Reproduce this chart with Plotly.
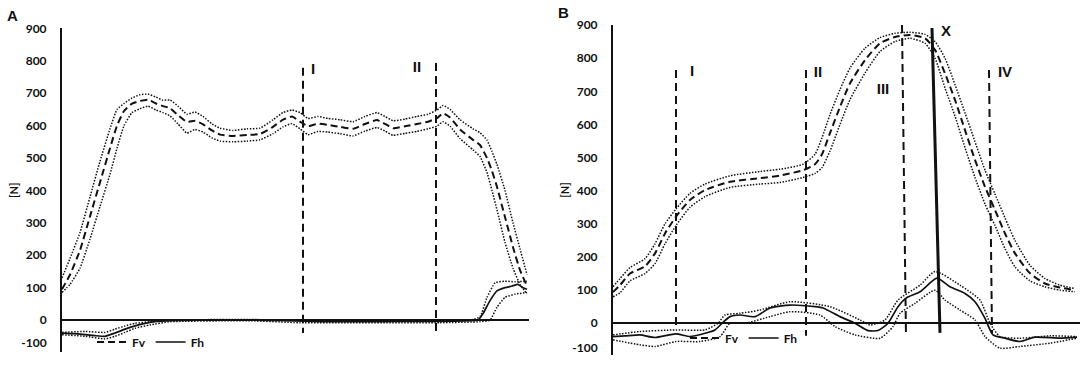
import plotly.graph_objects as go

# ---------------- DATA (time in samples, force in N) ----------------
# Panel A
t_fv_a = [0, 8, 18, 28, 38, 48, 55, 62, 70, 78, 86, 94, 101, 108, 116, 125, 133, 141, 150, 158,
          171, 185, 198, 211, 221, 230, 238, 246, 256, 266, 278, 291, 303, 315, 323, 331, 343, 355,
          366, 375, 381, 388, 398, 411, 418, 425, 430, 435, 443, 451, 458, 465]
fv_a_mean = [95, 140, 215, 320, 425, 530, 600, 645, 668, 676, 680, 668, 660, 654, 632, 611, 615, 604, 585, 572,
             568, 571, 574, 596, 618, 628, 612, 598, 606, 602, 596, 590, 605, 617, 605, 592, 598, 605,
             612, 623, 638, 625, 588, 556, 540, 500, 460, 411, 318, 225, 154, 105]
fv_a_upper = [130, 190, 270, 380, 490, 590, 650, 668, 685, 695, 697, 688, 678, 679, 660, 635, 642, 628, 605, 592,
              585, 590, 592, 618, 640, 648, 640, 622, 628, 622, 618, 612, 628, 640, 628, 615, 620, 628,
              635, 648, 662, 650, 618, 590, 578, 555, 520, 480, 400, 300, 220, 140]
fv_a_lower = [85, 110, 160, 250, 350, 450, 530, 600, 640, 652, 660, 648, 640, 630, 605, 577, 588, 580, 562, 552,
              550, 552, 556, 575, 596, 606, 590, 572, 582, 580, 575, 568, 583, 594, 583, 570, 576, 582,
              590, 598, 612, 598, 560, 525, 505, 455, 400, 340, 240, 160, 110, 80]

t_fh_a = [0, 13, 23, 33, 43, 53, 63, 73, 83, 93, 108, 138, 188, 228, 258, 298, 338, 378, 408, 416,
          421, 428, 435, 443, 450, 456, 461, 465]
fh_a_mean = [-40, -42, -45, -48, -50, -40, -28, -18, -10, -5, -2, 0, 0, -2, -5, -5, -4, -4, -2, 0,
             20, 60, 90, 100, 105, 110, 100, 95]
t_fh_a_upper = [0, 23, 43, 53, 63, 73, 88, 108, 188, 238, 378, 408, 418, 425, 433, 443, 453, 465]
fh_a_upper = [-38, -35, -38, -28, -18, -10, -5, 0, 2, -2, -2, 0, 10, 70, 115, 120, 118, 120]
t_fh_a_lower = [0, 23, 43, 53, 63, 73, 88, 108, 188, 238, 378, 418, 428, 435, 443, 453, 465]
fh_a_lower = [-45, -50, -58, -50, -38, -25, -15, -5, -2, -8, -8, -5, 0, 40, 70, 80, 85]

# phase markers panel A
phase_a_names = ["I", "II"]
phase_a_t_top = [241, 374]
phase_a_t_bottom = [241, 374]
phase_a_top = [778, 793]
phase_a_bottom = [-40, -40]
phase_a_label_t = [251, 355]
phase_a_label_y = [771, 778]

# Panel B
t_fv_b = [0, 7, 17, 32, 42, 52, 63, 77, 92, 117, 147, 167, 190, 202, 209, 217, 227, 237, 252, 267,
          282, 297, 312, 322, 332, 342, 352, 362, 372, 382, 392, 402, 417, 432, 447, 462]
fv_b_mean = [94, 115, 150, 172, 211, 271, 322, 372, 402, 427, 438, 446, 462, 480, 510, 574, 653, 724, 794, 845,
             864, 870, 860, 825, 754, 674, 583, 493, 412, 342, 271, 211, 151, 120, 108, 100]
fv_b_upper = [110, 135, 168, 195, 240, 300, 345, 392, 420, 445, 458, 465, 480, 510, 560, 630, 705, 770, 830, 862,
              875, 878, 872, 850, 800, 720, 635, 548, 462, 390, 318, 250, 175, 135, 115, 105]
fv_b_lower = [80, 92, 128, 150, 180, 240, 295, 350, 382, 410, 420, 425, 440, 452, 470, 520, 600, 675, 755, 820,
              850, 860, 845, 800, 710, 625, 530, 440, 360, 295, 225, 170, 128, 110, 100, 95]

t_fh_b = [0, 12, 27, 42, 63, 77, 92, 102, 109, 117, 127, 142, 157, 177, 202, 210, 227, 242, 255, 265,
          275, 285, 293, 307, 324, 337, 352, 362, 372, 380, 392, 407, 422, 447, 464]
fh_b_mean = [-40, -38, -35, -43, -32, -40, -30, -20, 0, 20, 25, 20, 46, 55, 50, 46, 20, 0, -22, -22,
             0, 50, 76, 95, 136, 110, 90, 65, 15, -35, -45, -55, -42, -45, -42]
t_fh_b_upper = [0, 27, 63, 92, 105, 112, 127, 147, 177, 217, 247, 257, 272, 285, 307, 322, 347, 367, 377,
                387, 407, 437, 464]
fh_b_upper = [-35, -25, -20, -20, 0, 25, 30, 40, 65, 50, 10, -5, 10, 70, 115, 156, 115, 70, 0,
              -40, -45, -38, -40]
t_fh_b_lower = [0, 27, 42, 63, 87, 107, 117, 132, 157, 177, 207, 222, 242, 267, 280, 287, 302, 322, 332,
                347, 362, 372, 387, 407, 437, 464]
fh_b_lower = [-50, -65, -70, -55, -55, -40, 0, 0, 20, 35, 25, -10, -35, -45, -10, 30, 60, 100, 70,
              40, 10, -40, -75, -70, -60, -45]

phase_b_names = ["I", "II", "III", "IV"]
phase_b_t_top = [63, 193, 289, 376]
phase_b_t_bottom = [63, 193, 293, 379]
phase_b_top = [764, 764, 900, 764]
phase_b_bottom = [-20, -38, -41, -30]
phase_b_label_t = [79, 205, 270, 392]
phase_b_label_y = [758, 755, 704, 755]

x_event_t = [319, 327]
x_event_y = [891, -29]
x_event_label = ("X", 333, 879)

tick_vals = [0, 100, 200, 300, 400, 500, 600, 700, 800, 900]
tick_text = ["0", "100", "200", "300", "400", "500", "600", "700", "800", "900"]

# ---------------- FIGURE ----------------
FONT = "Lato"
BLACK = "#111111"
DOT = "1.5px,1.5px"
DASH_MEAN = "7px,4px"
DASH_EVENT = "8px,5px"

fig = go.Figure()


def line(x, y, xa, ya, dash, width, name=None, legend=None, smoothing=0.6):
    fig.add_trace(go.Scatter(
        x=x, y=y, xaxis=xa, yaxis=ya, mode="lines",
        line=dict(color=BLACK, width=width, dash=dash, shape="spline", smoothing=smoothing),
        name=name, showlegend=name is not None, legend=legend, hoverinfo="skip"))


# Panel A
line(t_fv_a, fv_a_upper, "x", "y", DOT, 1.5, smoothing=0.4)
line(t_fv_a, fv_a_lower, "x", "y", DOT, 1.5, smoothing=0.4)
line(t_fh_a_upper, fh_a_upper, "x", "y", DOT, 1.5, smoothing=0.4)
line(t_fh_a_lower, fh_a_lower, "x", "y", DOT, 1.5, smoothing=0.4)
line(t_fv_a, fv_a_mean, "x", "y", DASH_MEAN, 2, name="Fv", legend="legend", smoothing=0.4)
line(t_fh_a, fh_a_mean, "x", "y", "solid", 1.7, name="Fh", legend="legend", smoothing=0.4)
for i in range(len(phase_a_names)):
    line([phase_a_t_top[i], phase_a_t_bottom[i]], [phase_a_top[i], phase_a_bottom[i]],
         "x", "y", DASH_EVENT, 2)
fig.add_trace(go.Scatter(x=phase_a_label_t, y=phase_a_label_y, xaxis="x", yaxis="y", mode="text",
                         text=phase_a_names, showlegend=False, hoverinfo="skip",
                         textfont=dict(family="Liberation Sans", size=15, color=BLACK, weight="bold")))

# Panel B
line(t_fv_b, fv_b_upper, "x2", "y2", DOT, 1.5)
line(t_fv_b, fv_b_lower, "x2", "y2", DOT, 1.5)
line(t_fh_b_upper, fh_b_upper, "x2", "y2", DOT, 1.5)
line(t_fh_b_lower, fh_b_lower, "x2", "y2", DOT, 1.5)
line(t_fv_b, fv_b_mean, "x2", "y2", DASH_MEAN, 2, name="Fv", legend="legend2")
line(t_fh_b, fh_b_mean, "x2", "y2", "solid", 1.7, name="Fh", legend="legend2")
for i in range(len(phase_b_names)):
    line([phase_b_t_top[i], phase_b_t_bottom[i]], [phase_b_top[i], phase_b_bottom[i]],
         "x2", "y2", DASH_EVENT, 2)
line(x_event_t, x_event_y, "x2", "y2", "solid", 3)
fig.add_trace(go.Scatter(x=phase_b_label_t + [x_event_label[1]], y=phase_b_label_y + [x_event_label[2]],
                         xaxis="x2", yaxis="y2", mode="text",
                         text=phase_b_names + [x_event_label[0]], showlegend=False, hoverinfo="skip",
                         textfont=dict(family="Liberation Sans", size=15, color=BLACK, weight="bold")))

tickfont = dict(family=FONT, size=12, color=BLACK, weight="bold")
xcommon = dict(showgrid=False, zeroline=False, showline=False, showticklabels=False, ticks="",
               range=[0, 467], fixedrange=True, automargin=False)
ycommon = dict(showgrid=False, showline=True, linecolor=BLACK, linewidth=2, ticks="",
               zeroline=True, zerolinecolor=BLACK, zerolinewidth=2, tickfont=tickfont,
               ticklabelstandoff=11, automargin=False, fixedrange=True,
               title=dict(text="[N]", font=dict(family=FONT, size=11, color=BLACK, weight="bold"), standoff=0))

fig.update_layout(
    width=1084, height=371, autosize=False,
    margin=dict(l=0, r=0, t=0, b=0, pad=0, autoexpand=False),
    paper_bgcolor="white", plot_bgcolor="white",
    xaxis=dict(domain=[62 / 1084, 529 / 1084], anchor="y", **xcommon),
    xaxis2=dict(domain=[613 / 1084, 1080 / 1084], anchor="y2", **xcommon),
    yaxis=dict(domain=[0.0507, 0.9237], anchor="x", range=[-99, 900],
               tickvals=[-71] + tick_vals, ticktext=["-100"] + tick_text, **ycommon),
    yaxis2=dict(domain=[0.0429, 0.9325], anchor="x2", range=[-96, 900],
                tickvals=[-75] + tick_vals, ticktext=["-100"] + tick_text, **ycommon),
    legend=dict(orientation="h", x=92 / 1084, y=(371 - 342) / 371, xanchor="left", yanchor="middle",
                bgcolor="rgba(0,0,0,0)", font=dict(family=FONT, size=12, color=BLACK, weight="bold"),
                itemwidth=30, tracegroupgap=0),
    legend2=dict(orientation="h", x=685 / 1084, y=(371 - 338) / 371, xanchor="left", yanchor="middle",
                 bgcolor="rgba(0,0,0,0)", font=dict(family=FONT, size=12, color=BLACK, weight="bold"),
                 itemwidth=30, tracegroupgap=0),
    annotations=[
        dict(text="A", x=12 / 1084, y=(371 - 15) / 371, xref="paper", yref="paper", showarrow=False,
             xanchor="center", yanchor="middle",
             font=dict(family="Liberation Sans", size=15, color=BLACK, weight="bold")),
        dict(text="B", x=563 / 1084, y=(371 - 13) / 371, xref="paper", yref="paper", showarrow=False,
             xanchor="center", yanchor="middle",
             font=dict(family="Liberation Sans", size=15, color=BLACK, weight="bold")),
    ],
)

fig.write_html(
    "out.html",
    config={"displayModeBar": False, "staticPlot": True},
    post_script="document.body.style.margin='0';document.body.style.overflow='hidden';",
)
